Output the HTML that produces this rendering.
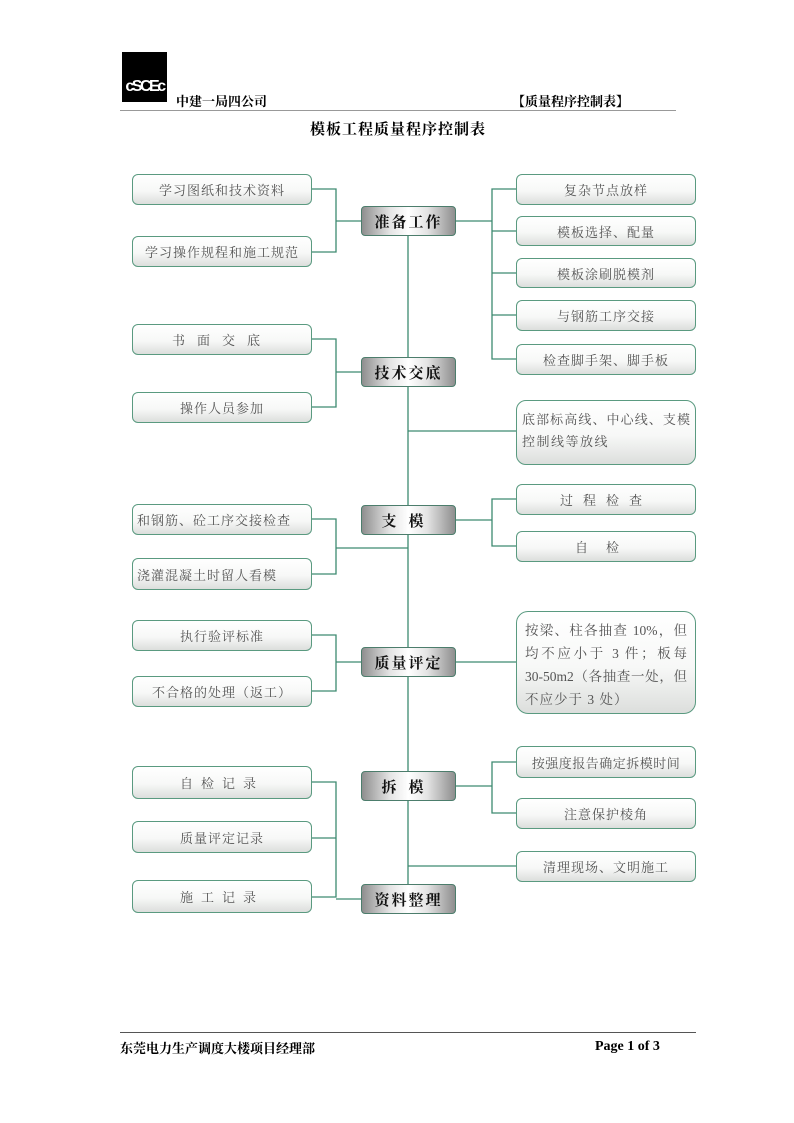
<!DOCTYPE html>
<html><head><meta charset="utf-8">
<style>
body{margin:0;background:#fff;}
#p{position:relative;width:794px;height:1123px;overflow:hidden;background:#fff;font-family:"Liberation Serif","Noto Serif CJK SC",serif;}
.b{position:absolute;box-sizing:border-box;border:1px solid #5a9a80;border-radius:6px;background:linear-gradient(#ffffff 0%,#f7f8f7 55%,#dcdedc 100%);color:#555;font-size:13px;display:flex;align-items:center;justify-content:center;letter-spacing:1px;}
.c{position:absolute;box-sizing:border-box;border:1px solid #4c7d6c;border-radius:4px;background:linear-gradient(90deg,#8e8e8e 0%,#e4e4e4 30%,#ffffff 50%,#e4e4e4 70%,#8e8e8e 100%);color:#111;font-size:15px;font-weight:bold;display:flex;align-items:center;justify-content:center;letter-spacing:2px;}
.t{position:absolute;white-space:nowrap;}
.j{display:block;text-align:justify;text-align-last:justify;white-space:nowrap;}
</style></head><body><div id="p">
<div style="position:absolute;left:122px;top:52px;width:45px;height:50px;background:#000;color:#fff;font:bold 16px 'Liberation Sans',sans-serif;display:flex;align-items:flex-end;justify-content:center;letter-spacing:-2.5px;padding-bottom:6px;box-sizing:border-box;">cSCEc</div>
<div class="t" style="left:176px;top:91px;font-size:13px;font-weight:bold;font-family:'Noto Serif CJK SC',serif;">中建一局四公司</div>
<div class="t" style="left:512px;top:91px;font-size:13px;font-weight:bold;font-family:'Noto Serif CJK SC',serif;">【质量程序控制表】</div>
<div style="position:absolute;left:120px;top:110px;width:556px;height:1px;background:#999;"></div>
<div class="t" style="left:310px;top:118px;font-size:15px;font-weight:bold;letter-spacing:1px;font-family:'Noto Serif CJK SC',serif;">模板工程质量程序控制表</div>
<svg style="position:absolute;left:0;top:0" width="794" height="1123" fill="none" stroke="#3d8a70" stroke-width="1.3">
<path d="M408 236V884"/>
<path d="M312 189H336V252H312M336 221H361"/>
<path d="M312 339H336V407H312M336 372H361"/>
<path d="M312 519H336V574H312M336 548H408"/>
<path d="M312 635H336V691H312M336 662H361"/>
<path d="M312 782H336V897H312M312 838H336M336 899H361"/>
<path d="M456 221H492M516 189H492V359H516M492 231H516M492 273H516M492 315H516"/>
<path d="M408 431H516"/>
<path d="M456 520H492M516 499H492V546H516"/>
<path d="M456 662H516"/>
<path d="M456 786H492M516 762H492V813H516"/>
<path d="M408 866H516"/>
</svg>
<div class="b" style="left:132px;top:174px;width:180px;height:31px;">学习图纸和技术资料</div>
<div class="b" style="left:132px;top:236px;width:180px;height:31px;">学习操作规程和施工规范</div>
<div class="b" style="left:132px;top:324px;width:180px;height:31px;letter-spacing:12px;">书面交底</div>
<div class="b" style="left:132px;top:392px;width:180px;height:31px;">操作人员参加</div>
<div class="b" style="left:132px;top:504px;width:180px;height:31px;justify-content:flex-start;padding-left:4px;">和钢筋、砼工序交接检查</div>
<div class="b" style="left:132px;top:558px;width:180px;height:32px;justify-content:flex-start;padding-left:4px;">浇灌混凝土时留人看模</div>
<div class="b" style="left:132px;top:620px;width:180px;height:31px;">执行验评标准</div>
<div class="b" style="left:132px;top:676px;width:180px;height:31px;">不合格的处理（返工）</div>
<div class="b" style="left:132px;top:766px;width:180px;height:33px;letter-spacing:8px;">自检记录</div>
<div class="b" style="left:132px;top:821px;width:180px;height:32px;">质量评定记录</div>
<div class="b" style="left:132px;top:880px;width:180px;height:33px;letter-spacing:8px;">施工记录</div>
<div class="c" style="left:361px;top:206px;width:95px;height:30px;">准备工作</div>
<div class="c" style="left:361px;top:357px;width:95px;height:30px;">技术交底</div>
<div class="c" style="left:361px;top:505px;width:95px;height:30px;letter-spacing:12px;">支模</div>
<div class="c" style="left:361px;top:647px;width:95px;height:30px;">质量评定</div>
<div class="c" style="left:361px;top:771px;width:95px;height:30px;letter-spacing:12px;">拆模</div>
<div class="c" style="left:361px;top:884px;width:95px;height:30px;">资料整理</div>
<div class="b" style="left:516px;top:174px;width:180px;height:31px;">复杂节点放样</div>
<div class="b" style="left:516px;top:216px;width:180px;height:30px;">模板选择、配量</div>
<div class="b" style="left:516px;top:258px;width:180px;height:30px;">模板涂刷脱模剂</div>
<div class="b" style="left:516px;top:300px;width:180px;height:31px;">与钢筋工序交接</div>
<div class="b" style="left:516px;top:344px;width:180px;height:31px;">检查脚手架、脚手板</div>
<div class="b" style="left:516px;top:400px;width:180px;height:65px;border-radius:10px;display:block;padding:8px 5px 0 5px;line-height:22px;letter-spacing:0;"><span class="j">底部标高线、中心线、支模</span><span style="display:block;letter-spacing:1.5px;">控制线等放线</span></div>
<div class="b" style="left:516px;top:484px;width:180px;height:31px;letter-spacing:10px;">过程检查</div>
<div class="b" style="left:516px;top:531px;width:180px;height:31px;letter-spacing:18px;">自检</div>
<div class="b" style="left:516px;top:611px;width:180px;height:103px;border-radius:12px;display:block;padding:7px 8px 0 8px;line-height:23px;font-size:13.5px;letter-spacing:0;">
<span class="j">按梁、柱各抽查 10%，但</span><span class="j">均不应小于 3 件；板每</span><span class="j">30-50m2（各抽查一处，但</span><span style="display:block;letter-spacing:1px;">不应少于 3 处）</span></div>
<div class="b" style="left:516px;top:746px;width:180px;height:32px;letter-spacing:0.5px;">按强度报告确定拆模时间</div>
<div class="b" style="left:516px;top:798px;width:180px;height:31px;">注意保护棱角</div>
<div class="b" style="left:516px;top:851px;width:180px;height:31px;">清理现场、文明施工</div>
<div style="position:absolute;left:120px;top:1032px;width:576px;height:1px;background:#555;"></div>
<div class="t" style="left:120px;top:1038px;font-size:13px;font-weight:bold;font-family:'Noto Serif CJK SC',serif;">东莞电力生产调度大楼项目经理部</div>
<div class="t" style="left:595px;top:1039px;font-size:14px;font-weight:bold;font-family:'Liberation Serif',serif;">Page 1 of 3</div>
</div></body></html>
